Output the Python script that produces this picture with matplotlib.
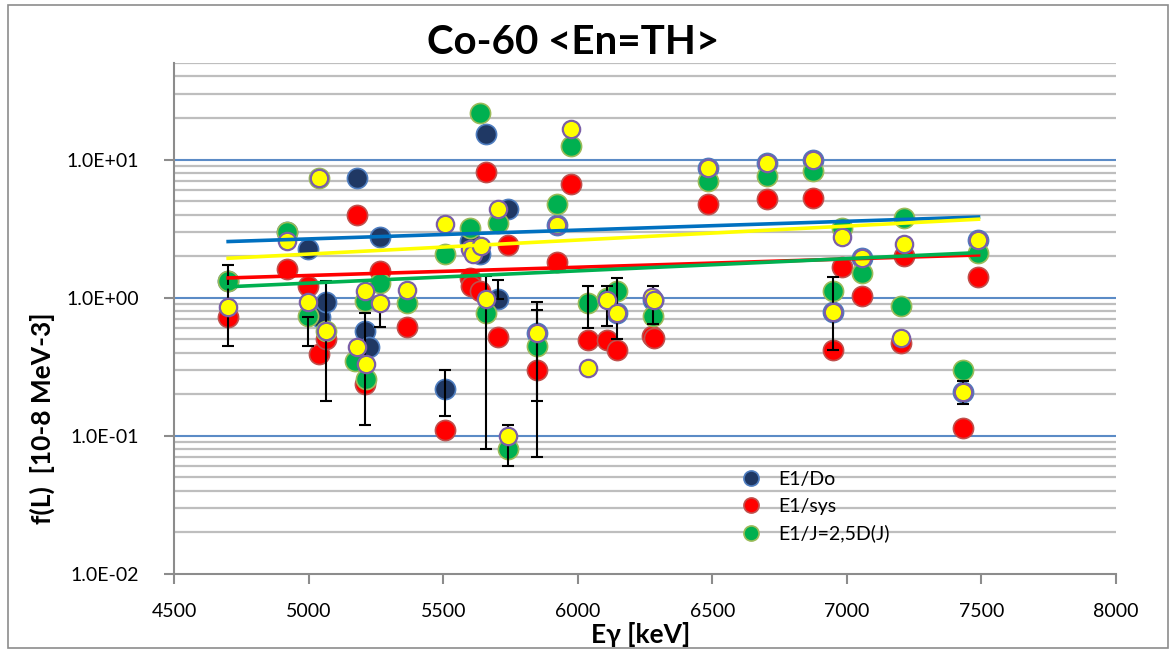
import matplotlib
matplotlib.use("Agg")
import matplotlib.pyplot as plt
from matplotlib.patches import Rectangle
from matplotlib.ticker import FixedLocator, NullFormatter

# E1/Do (navy)
E_do = [4701, 4920, 4998, 5043, 5065, 5180, 5210, 5225, 5265, 5507, 5600, 5637,
        5659, 5704, 5741, 5849, 5923, 6146, 6280, 6484, 6704, 6875, 6949, 7057,
        7432, 7488]
f_do = [1.33, 3.0, 2.25, 0.72, 0.935, 7.3, 0.577, 0.44, 2.77, 0.22, 2.58, 2.07,
        15.2, 0.98, 4.41, 0.556, 3.35, 0.775, 0.97, 8.73, 9.48, 9.87, 0.784, 1.93,
        0.207, 2.62]

# E1/sys (red)
E_sys = [4701, 4920, 4998, 5039, 5065, 5180, 5210, 5265, 5366, 5507, 5600, 5605,
         5637, 5659, 5704, 5741, 5849, 5923, 5975, 6038, 6109, 6146, 6277, 6282,
         6484, 6704, 6875, 6949, 6982, 7057, 7202, 7213, 7432, 7488]
f_sys = [0.72, 1.61, 1.22, 0.39, 0.50, 3.95, 0.236, 1.55, 0.61, 0.11, 1.40, 1.22,
         1.12, 8.17, 0.52, 2.40, 0.30, 1.82, 6.62, 0.495, 0.495, 0.42, 0.53, 0.51,
         4.75, 5.16, 5.3, 0.42, 1.68, 1.03, 0.47, 2.01, 0.114, 1.42]

# E1/J=2,5D(J) (green)
E_j = [4701, 4920, 4998, 5039, 5065, 5173, 5210, 5213, 5265, 5366, 5507, 5600,
       5637, 5659, 5704, 5741, 5849, 5923, 5975, 6038, 6109, 6146, 6278, 6484,
       6704, 6875, 6949, 6982, 7057, 7202, 7213, 7432, 7488]
f_j = [1.33, 3.0, 0.74, 7.3, 0.577, 0.346, 0.95, 0.26, 1.27, 0.915, 2.07, 3.22,
       21.6, 0.775, 3.5, 0.08, 0.445, 4.75, 12.5, 0.91, 1.0, 1.11, 0.74, 7.0,
       7.6, 8.26, 1.11, 3.22, 1.52, 0.875, 3.76, 0.30, 2.09]

# fourth series (yellow, no legend entry)
E_y = [4701, 4920, 4998, 5039, 5065, 5180, 5210, 5213, 5265, 5366, 5507, 5600,
       5611, 5640, 5659, 5704, 5741, 5849, 5923, 5975, 6038, 6109, 6146, 6277,
       6282, 6484, 6704, 6875, 6949, 6982, 7057, 7202, 7213, 7432, 7488]
f_y = [0.85, 2.58, 0.935, 7.3, 0.577, 0.44, 1.11, 0.33, 0.91, 1.14, 3.44, 2.25,
       2.07, 2.35, 0.98, 4.41, 0.10, 0.556, 3.35, 16.7, 0.309, 0.967, 0.775, 1.02,
       0.97, 8.73, 9.48, 9.87, 0.784, 2.73, 1.93, 0.51, 2.44, 0.207, 2.62]

# error bars: energy, lower end, upper end
err_E = [4701, 4998, 5065, 5210, 5265, 5507, 5659, 5704, 5741, 5849, 5849,
         6038, 6109, 6146, 6278, 6949, 7432]
err_lo = [0.45, 0.45, 0.18, 0.12, 0.61, 0.14, 0.08, 0.98, 0.06, 0.07, 0.18,
          0.60, 0.62, 0.50, 0.65, 0.42, 0.17]
err_hi = [1.73, 0.72, 1.33, 0.77, 0.91, 0.30, 1.44, 1.34, 0.12, 0.93, 0.82,
          1.21, 1.22, 1.38, 1.22, 1.42, 0.25]

# trend lines (start / end values at first and last energy)
trend_E = [4701, 7489]
trend_do = [2.55, 3.84]
trend_y = [1.93, 3.70]
trend_sys = [1.39, 2.04]
trend_j = [1.20, 2.12]

fam = ["Lato", "DejaVu Sans"]

fig = plt.figure(figsize=(11.76, 6.53), dpi=100)
ax = fig.add_axes([0.148, 0.121, 0.801, 0.7825])

ax.set_yscale("log")
ax.set_ylim(0.01, 50)
ax.set_xlim(4500, 8000)

# grid lines
minors = [m * 10.0 ** p for p in range(-2, 2) for m in range(2, 10)]
minors = [v for v in minors if v <= 50]
for v in minors:
    ax.axhline(v, color="#BEBEBE", lw=1.6, zorder=0)
for v in [0.1, 1, 10]:
    ax.axhline(v, color="#5B8BC6", lw=1.5, zorder=0.5)

ms = 14.5
ax.plot(E_do, f_do, "o", ms=ms, mfc="#1F3864", mec="#4F7EC0", mew=1.2,
        label="E1/Do", zorder=2)
ax.plot(E_sys, f_sys, "o", ms=ms, mfc="#FF0000", mec="#C0504D", mew=1.2,
        label="E1/sys", zorder=3)
ax.plot(E_j, f_j, "o", ms=ms, mfc="#00B050", mec="#9BBB59", mew=1.2,
        label="E1/J=2,5D(J)", zorder=4)
ax.plot(E_y, f_y, "o", ms=12.5, mfc="#FFFF00", mec="#7B5FA8", mew=1.6,
        zorder=5)

mid = [(lo * hi) ** 0.5 for lo, hi in zip(err_lo, err_hi)]
yerr = [[m - lo for m, lo in zip(mid, err_lo)], [hi - m for m, hi in zip(mid, err_hi)]]
ax.errorbar(err_E, mid, yerr=yerr, fmt="none", ecolor="black", elinewidth=1.5,
            capsize=4.5, capthick=1.5, zorder=4.5)

ax.plot(trend_E, trend_do, color="#0070C0", lw=2.6, zorder=6)
ax.plot(trend_E, trend_y, color="#FFFF00", lw=2.6, zorder=6)
ax.plot(trend_E, trend_sys, color="#FF0000", lw=2.6, zorder=6)
ax.plot(trend_E, trend_j, color="#00B050", lw=2.6, zorder=6)

# axes styling
for s in ["top", "right"]:
    ax.spines[s].set_visible(False)
for s in ["left", "bottom"]:
    ax.spines[s].set_color("#8C8C8C")
    ax.spines[s].set_linewidth(1.5)

ax.set_xticks(range(4500, 8001, 500))
ax.yaxis.set_major_locator(FixedLocator([0.01, 0.1, 1, 10]))
ax.yaxis.set_minor_locator(FixedLocator([]))
ax.yaxis.set_minor_formatter(NullFormatter())
ax.set_yticklabels(["1.0E-02", "1.0E-01", "1.0E+00", "1.0E+01"])
ax.tick_params(axis="both", which="major", direction="out", length=7,
               width=1.5, color="#8C8C8C", labelsize=14)
ax.tick_params(axis="y", pad=18)
ax.tick_params(axis="x", pad=14)

for lab in ax.get_xticklabels() + ax.get_yticklabels():
    lab.set_family(fam)

fig.text(0.487, 0.935, "Co-60 <En=TH>", ha="center", va="center",
         fontsize=29, fontweight="bold", family=fam)
fig.text(0.036, 0.36, "f(L)  [10-8 MeV-3]", rotation=90, ha="center",
         va="center", fontsize=19, fontweight="bold", family=fam)
fig.text(0.545, 0.029, "E\u03b3 [keV]", ha="center", va="center",
         fontsize=19, fontweight="bold", family=fam)

leg = ax.legend(loc="upper left", bbox_to_anchor=(0.588, 0.228), frameon=False,
                handletextpad=0.9, labelspacing=0.5, borderpad=0.2,
                markerscale=0.75, handlelength=1.0,
                prop={"family": fam, "size": 14})
leg.set_zorder(10)

fig.patches.append(Rectangle((0.007, 0.008), 0.986, 0.984, transform=fig.transFigure,
                             fill=False, edgecolor="#8C8C8C", lw=1.2))

fig.savefig("out.png", dpi=100)
